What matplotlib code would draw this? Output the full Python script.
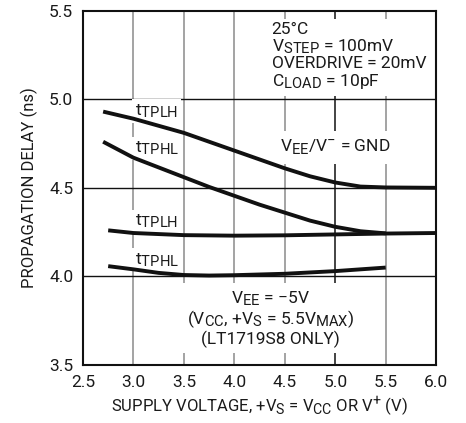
import matplotlib
matplotlib.use('Agg')
import matplotlib.pyplot as plt
import matplotlib._mathtext as mtext

# subscripts in the reference are almost full size
mtext.SHRINK_FACTOR = 0.85

plt.rcParams['font.family'] = ['Roboto', 'DejaVu Sans']
plt.rcParams['mathtext.fontset'] = 'custom'
plt.rcParams['mathtext.rm'] = 'Roboto'
plt.rcParams['axes.unicode_minus'] = True

# data
x_plh_gnd = [2.7, 3.0, 3.25, 3.5, 3.75, 4.0, 4.25, 4.5, 4.75, 5.0, 5.25, 5.5, 6.0]
y_plh_gnd = [4.93, 4.89, 4.85, 4.81, 4.76, 4.71, 4.66, 4.61, 4.565, 4.53, 4.507, 4.502, 4.50]

x_phl_gnd = [2.7, 3.0, 3.25, 3.5, 3.75, 4.0, 4.25, 4.5, 4.75, 5.0, 5.25, 5.5]
y_phl_gnd = [4.76, 4.67, 4.615, 4.56, 4.505, 4.455, 4.405, 4.36, 4.315, 4.28, 4.255, 4.243]

x_plh_m5 = [2.75, 3.0, 3.5, 4.0, 4.5, 5.0, 5.5, 6.0]
y_plh_m5 = [4.26, 4.245, 4.233, 4.23, 4.232, 4.237, 4.242, 4.245]

x_phl_m5 = [2.75, 3.0, 3.25, 3.5, 3.75, 4.0, 4.5, 5.0, 5.5]
y_phl_m5 = [4.058, 4.04, 4.02, 4.008, 4.005, 4.007, 4.015, 4.03, 4.05]

x_ticks = [2.5, 3.0, 3.5, 4.0, 4.5, 5.0, 5.5, 6.0]
y_ticks = [3.5, 4.0, 4.5, 5.0, 5.5]

fig = plt.figure(figsize=(4.66, 4.23), dpi=100)
ax = fig.add_axes([0.178, 0.137, 0.758, 0.838])

ax.set_xlim(2.5, 6.0)
ax.set_ylim(3.5, 5.5)
ax.set_xticks(x_ticks)
ax.set_yticks(y_ticks)
ax.set_xticklabels(['%.1f' % v for v in x_ticks])
ax.set_yticklabels(['%.1f' % v for v in y_ticks])
ax.tick_params(length=0, labelsize=12.5, colors='#1a1a1a', pad=7)

# grid
for xv in x_ticks[1:-1]:
    c = '#111111' if xv == 5.0 else '#8a8a8a'
    ax.axvline(xv, color=c, lw=1.1, zorder=1)
for yv in y_ticks[1:-1]:
    ax.axhline(yv, color='#111111', lw=1.0, zorder=1)

for s in ax.spines.values():
    s.set_linewidth(1.5)
    s.set_color('#111111')

lw = 2.8
for xs, ys in [(x_plh_gnd, y_plh_gnd), (x_phl_gnd, y_phl_gnd),
               (x_plh_m5, y_plh_m5), (x_phl_m5, y_phl_m5)]:
    ax.plot(xs, ys, color='#111111', lw=lw, solid_capstyle='butt', zorder=3)

box = dict(facecolor='white', edgecolor='none', pad=2)
tc = '#1a1a1a'

# curve labels
ax.text(3.015, 4.91, r'$\mathregular{t_{TPLH}}$', fontsize=12.5, color=tc, bbox=box, zorder=2)
ax.text(3.015, 4.70, r'$\mathregular{t_{TPHL}}$', fontsize=12.5, color=tc, bbox=box, zorder=2)
ax.text(3.015, 4.287, r'$\mathregular{t_{TPLH}}$', fontsize=12.5, color=tc, bbox=box, zorder=2)
ax.text(3.015, 4.071, r'$\mathregular{t_{TPHL}}$', fontsize=12.5, color=tc, bbox=box, zorder=2)

cond = ('25°C\n'
        r'$\mathregular{V_{STEP}}$ = 100mV' + '\n'
        'OVERDRIVE = 20mV\n'
        r'$\mathregular{C_{LOAD}}$ = 10pF')
ax.text(4.37, 5.435, cond, fontsize=12.5, color=tc, ha='left', va='top',
        linespacing=1.02, bbox=dict(facecolor='white', edgecolor='none', pad=4), zorder=2)

ax.text(5.0, 4.73, r'$\mathregular{V_{EE}/V^{-}}$ = GND', fontsize=12.5, color=tc,
        ha='center', va='center', bbox=dict(facecolor='white', edgecolor='none', pad=5), zorder=2)

low = (r'$\mathregular{V_{EE}}$ = −5V' + '\n'
       r'($\mathregular{V_{CC}}$, +$\mathregular{V_S}$ = 5.5$\mathregular{V_{MAX}}$)' + '\n'
       '(LT1719S8 ONLY)')
ax.text(4.36, 3.763, low, fontsize=12.5, color=tc, ha='center', va='center',
        multialignment='center', linespacing=1.02,
        bbox=dict(facecolor='white', edgecolor='none', pad=4), zorder=2)

ax.set_xlabel(r'SUPPLY VOLTAGE, +$\mathregular{V_S}$ = $\mathregular{V_{CC}}$ OR $\mathregular{V^{+}}$ (V)',
              fontsize=12, color=tc, labelpad=4)
ax.set_ylabel('PROPAGATION DELAY (ns)', fontsize=12, color=tc, labelpad=8)

fig.savefig('out.png', dpi=100)
